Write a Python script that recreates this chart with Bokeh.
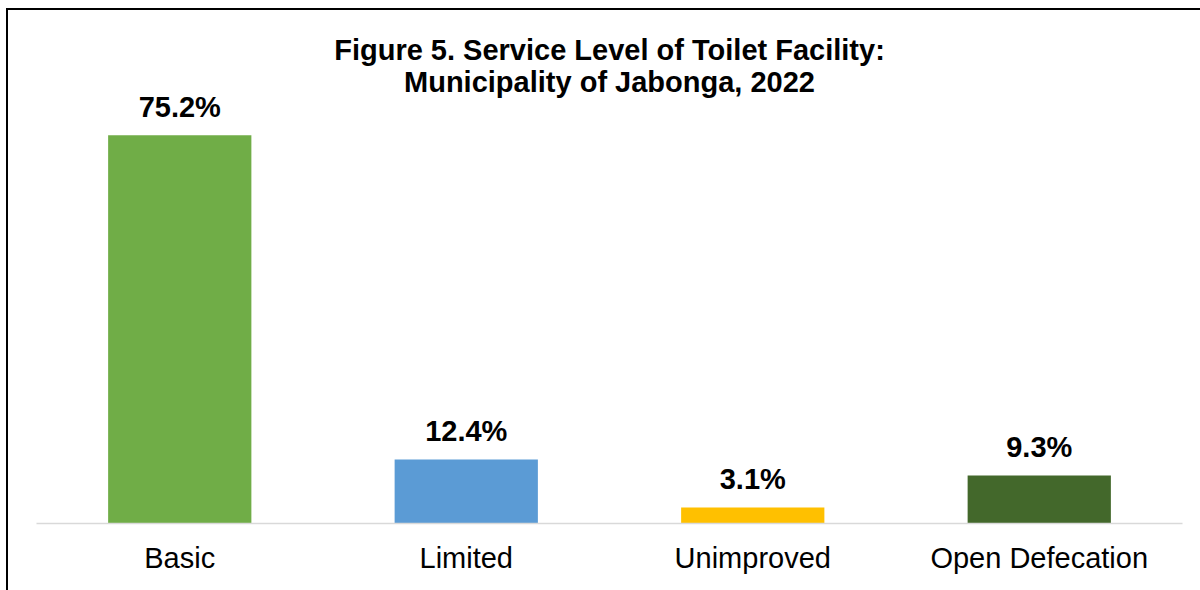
from bokeh.plotting import figure
from bokeh.models import Range1d, FactorRange, ColumnDataSource, Label
from bokeh.core.properties import value
from bokeh.embed import file_html
from bokeh.resources import INLINE

# ---- data ----
categories = ["Basic", "Limited", "Unimproved", "Open Defecation"]
percentages = [75.2, 12.4, 3.1, 9.3]
bar_colors = ["#70AD47", "#5B9BD5", "#FFC000", "#43682B"]
title_lines = ["Figure 5. Service Level of Toilet Facility:",
               "Municipality of Jabonga, 2022"]

# ---- layout constants ----
FONT = "Liberation Sans"
Y_END = 99.0
FRAME_W = 1146
FRAME_H = 511
PX_PER_UNIT = FRAME_H / Y_END

labels = [f"{v:.1f}%" for v in percentages]
source = ColumnDataSource(dict(cat=categories, val=percentages,
                               color=bar_colors, label=labels))

p = figure(x_range=FactorRange(*categories, range_padding=0),
           y_range=Range1d(0, Y_END),
           frame_width=FRAME_W, frame_height=FRAME_H,
           min_border_left=28, min_border_right=18,
           min_border_top=2, min_border_bottom=67,
           output_backend="svg", toolbar_location=None,
           y_axis_location=None, background_fill_color="white",
           border_fill_color="white")
p.styles = {"border-left": "2px solid #000000", "border-top": "2px solid #000000",
            "margin-left": "6px", "margin-top": "8px"}
p.outline_line_color = None
p.grid.visible = False

p.vbar(x="cat", top="val", width=0.5, color="color", line_color=None, source=source)

p.text(x="cat", y="val", text="label", y_offset=-28,
       text_align="center", text_baseline="alphabetic",
       text_font=value(FONT), text_font_size="29px", text_font_style="bold",
       text_color="#000000", source=source)

ax = p.xaxis[0]
ax.axis_line_color = "#D9D9D9"
ax.axis_line_width = 1.5
ax.major_tick_line_color = None
ax.minor_tick_line_color = None
ax.major_tick_out = 0
ax.major_tick_in = 0
ax.major_label_standoff = 18
ax.major_label_text_font = FONT
ax.major_label_text_font_size = "29px"
ax.major_label_text_color = "#000000"

# title lines, centred over the plot frame
center_x = len(categories) / 2
for txt, px_below_top in zip(title_lines, [37, 69]):
    p.add_layout(Label(x=center_x, y=Y_END - px_below_top / PX_PER_UNIT,
                       text=txt, text_align="center", text_baseline="alphabetic",
                       text_font=FONT, text_font_size="29px",
                       text_font_style="bold", text_color="#000000"))

open("out.html", "w").write(file_html(p, INLINE))
